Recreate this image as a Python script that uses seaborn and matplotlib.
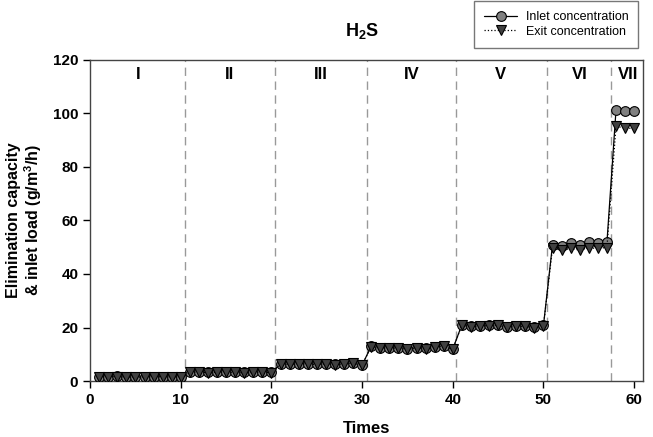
import numpy as np
import pandas as pd
import seaborn as sns
import matplotlib.pyplot as plt

# Данные
times = list(range(1, 61))
inlet = [1.7, 1.7, 1.8, 1.6, 1.6, 1.6, 1.7, 1.7, 1.7, 1.6,
         3.3, 3.5, 3.2, 3.4, 3.3, 3.3, 3.2, 3.3, 3.4, 3.2,
         6.5, 6.3, 6.5, 6.5, 6.3, 6.5, 6.2, 6.5, 6.8, 6.0,
         13.0, 12.5, 12.3, 12.5, 12.0, 12.5, 12.2, 12.8, 13.2, 12.0,
         21.0, 20.4, 20.6, 20.8, 20.9, 20.2, 20.5, 20.5, 20.1, 20.8,
         51.0, 50.5, 51.5, 50.8, 51.8, 51.5, 51.8,
         101.2, 100.8, 101.0]
exit_ = [1.6, 1.6, 1.7, 1.5, 1.5, 1.5, 1.6, 1.6, 1.6, 1.5,
         3.2, 3.4, 3.1, 3.3, 3.2, 3.2, 3.1, 3.2, 3.3, 3.1,
         6.4, 6.2, 6.4, 6.4, 6.2, 6.4, 6.1, 6.4, 6.7, 5.9,
         12.9, 12.4, 12.2, 12.4, 11.9, 12.4, 12.1, 12.7, 13.1, 11.9,
         20.9, 20.3, 20.5, 20.7, 20.8, 20.1, 20.4, 20.4, 20.0, 20.7,
         49.8, 48.8, 49.6, 48.9, 49.7, 49.6, 49.9,
         95.2, 94.5, 94.4]
phase_bounds = [10.5, 20.4, 30.5, 40.3, 50.4, 57.4]
phase_labels = ['I', 'II', 'III', 'IV', 'V', 'VI', 'VII']
phase_label_x = [5.3, 15.4, 25.4, 35.5, 45.3, 54.0, 59.3]

df = pd.DataFrame({'Times': times, 'inlet': inlet, 'exit': exit_})

sns.set_theme(style='ticks')
plt.rcParams['font.family'] = ['Liberation Sans', 'DejaVu Sans']
plt.rcParams['text.color'] = 'black'
plt.rcParams['axes.labelcolor'] = 'black'
plt.rcParams['xtick.color'] = 'black'
plt.rcParams['ytick.color'] = 'black'
plt.rcParams['mathtext.fontset'] = 'custom'
plt.rcParams['mathtext.rm'] = 'Liberation Sans:bold'
plt.rcParams['mathtext.bf'] = 'Liberation Sans:bold'
plt.rcParams['mathtext.it'] = 'Liberation Sans:bold'

fig = plt.figure(figsize=(6.53, 4.37), dpi=100)
ax = fig.add_axes([0.138, 0.128, 0.847, 0.735])

for xb in phase_bounds:
    ax.axvline(xb, color='#999999', linestyle=(0, (6, 4)), linewidth=1.0, zorder=1)

sns.lineplot(data=df, x='Times', y='inlet', ax=ax, color='black', linewidth=0.9,
             marker='o', markersize=7, markerfacecolor='#808080',
             markeredgecolor='black', markeredgewidth=0.8,
             label='Inlet concentration', zorder=3)
sns.lineplot(data=df, x='Times', y='exit', ax=ax, color='black', linewidth=0.9,
             linestyle=':', marker='v', markersize=7, markerfacecolor='#404040',
             markeredgecolor='black', markeredgewidth=0.8,
             label='Exit concentration', zorder=4)

for lab, xl in zip(phase_labels, phase_label_x):
    ax.text(xl, 114.5, lab, ha='center', va='center', fontsize=12, fontweight='bold')

ax.set_xlim(0, 61)
ax.set_ylim(0, 120)
ax.set_xticks([0, 10, 20, 30, 40, 50, 60])
ax.set_yticks([0, 20, 40, 60, 80, 100, 120])
ax.tick_params(direction='out', length=5, width=1, labelsize=11)
for lbl in ax.get_xticklabels() + ax.get_yticklabels():
    lbl.set_fontweight('bold')
for sp in ax.spines.values():
    sp.set_color('#444444')
    sp.set_linewidth(1.0)

ax.set_xlabel('Times', fontsize=12, fontweight='bold', labelpad=10)
ax.set_ylabel('Elimination capacity\n& inlet load (g/m$^3$/h)', fontsize=11.5,
              fontweight='bold', labelpad=6, linespacing=1.1)
fig.text(0.555, 0.93, 'H$_2$S', ha='center', va='center', fontsize=13, fontweight='bold')

ax.get_legend().remove()
handles, labels = ax.get_legend_handles_labels()
leg = fig.legend(handles, labels, loc='upper right', bbox_to_anchor=(0.987, 1.012),
                 fontsize=9, frameon=True, fancybox=False, borderpad=0.8,
                 handlelength=2.6, handletextpad=0.7, labelspacing=0.2)
leg.get_frame().set_edgecolor('#555555')
leg.get_frame().set_linewidth(1.0)

fig.savefig('out.png', dpi=100)
